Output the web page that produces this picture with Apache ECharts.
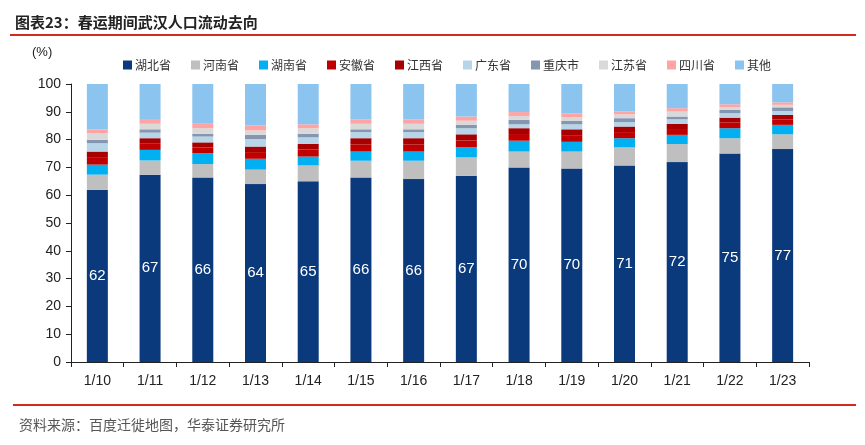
<!DOCTYPE html>
<html><head><meta charset="utf-8">
<script src="https://cdn.jsdelivr.net/npm/echarts@6/dist/echarts.min.js"></script>
<style>html,body{margin:0;padding:0;background:#fff}#c{width:865px;height:445px}</style>
</head><body><div id="c"></div>
<script>
const categories = ['1/10','1/11','1/12','1/13','1/14','1/15','1/16','1/17','1/18','1/19','1/20','1/21','1/22','1/23'];
const seriesNames = ['湖北省','河南省','湖南省','安徽省','江西省','广东省','重庆市','江苏省','四川省','其他'];
const hubei     = [62.0,67.4,66.4,64.0,65.0,66.4,65.8,67.0,70.0,69.6,70.7,71.9,75.0,76.6];
const henan     = [5.4,5.1,4.8,5.2,5.7,6.0,6.6,6.6,5.7,6.1,6.5,6.5,5.5,5.3];
const hunan     = [3.6,3.8,3.9,3.9,3.2,3.3,3.3,3.6,3.9,3.5,3.3,3.3,3.6,3.4];
const anhui     = [2.7,2.4,2.1,2.4,2.5,2.6,2.6,2.5,2.4,2.4,2.2,2.1,2.0,1.9];
const jiangxi   = [2.0,1.8,1.8,2.0,2.1,2.2,2.2,2.2,2.1,2.1,2.0,1.9,1.8,1.7];
const guangdong = [3.0,2.0,2.1,2.7,2.3,2.2,2.2,2.2,1.4,1.8,1.6,1.6,1.6,1.4];
const chongqing = [1.2,1.2,1.0,1.5,1.3,1.0,1.0,1.2,1.6,1.2,1.4,1.0,1.2,1.3];
const jiangsu   = [2.4,2.0,2.0,1.6,2.0,2.0,2.0,1.5,1.4,1.4,1.4,1.8,0.9,0.9];
const sichuan   = [1.4,1.4,1.6,1.8,1.4,1.6,1.6,1.5,1.4,1.3,1.0,1.2,1.1,0.9];
const other     = [16.3,12.9,14.3,14.9,14.5,12.7,12.7,11.7,10.1,10.6,9.9,8.7,7.3,6.6];
const yTicks = [0,10,20,30,40,50,60,70,80,90,100];

const values = [hubei,henan,hunan,anhui,jiangxi,guangdong,chongqing,jiangsu,sichuan,other];
const colors = ['#0B3A7C','#BFBFBF','#00B0F0','#C00000','#A80000','#B7D5E8','#8496B0','#D9D9D9','#FFA3A3','#8CC4F0'];

const series = seriesNames.map((n,i)=>({
  name:n, type:'bar', stack:'s', barWidth:21, data:values[i],
  itemStyle:{color:colors[i]},
  label: i===0 ? {show:true, position:'inside', color:'#fff', fontSize:15, fontFamily:'Liberation Sans', formatter:p=>Math.round(p.value)} : {show:false},
  emphasis:{disabled:true}
}));

const chart = echarts.init(document.getElementById('c'), null, {renderer:'canvas'});
chart.setOption({
  animation:false,
  backgroundColor:'#fff',
  title:[
    {text:'图表23：春运期间武汉人口流动去向', left:10, top:10, textStyle:{fontSize:15, fontWeight:'bold', color:'#222', fontFamily:'Noto Sans CJK SC'}},
    {text:'(%)', left:27, top:41, textStyle:{fontSize:13, fontWeight:'normal', color:'#222', fontFamily:'Liberation Sans'}},
    {text:'资料来源：百度迁徙地图，华泰证券研究所', left:14, top:413, textStyle:{fontSize:14, fontWeight:'normal', color:'#555', fontFamily:'Noto Sans CJK SC'}}
  ],
  graphic:[
    {type:'rect', shape:{x:10,y:34,width:846,height:2}, style:{fill:'#D42A1E'}},
    {type:'rect', shape:{x:13,y:404,width:843,height:2}, style:{fill:'#D42A1E'}}
  ],
  legend:{
    data:seriesNames, left:118, top:54, itemWidth:9, itemHeight:9, itemGap:20,
    icon:'rect', textStyle:{fontSize:12, color:'#333', fontFamily:'Noto Sans CJK SC', padding:[0,0,0,-2]}
  },
  grid:{left:71, right:56, top:84, bottom:83, containLabel:false},
  xAxis:{
    type:'category', data:categories,
    axisLine:{lineStyle:{color:'#222', width:1}},
    axisTick:{show:true, length:5, lineStyle:{color:'#222'}},
    axisLabel:{fontSize:14, color:'#222', fontFamily:'Liberation Sans', margin:12}
  },
  yAxis:{
    type:'value', min:0, max:100, interval:10,
    axisLine:{show:true, lineStyle:{color:'#222', width:1}},
    axisTick:{show:true, length:5, lineStyle:{color:'#222'}},
    splitLine:{show:false},
    axisLabel:{fontSize:14, color:'#222', fontFamily:'Liberation Sans', margin:10,
      formatter:v=>yTicks.includes(v)?String(v):''}
  },
  series:series
});
</script></body></html>
